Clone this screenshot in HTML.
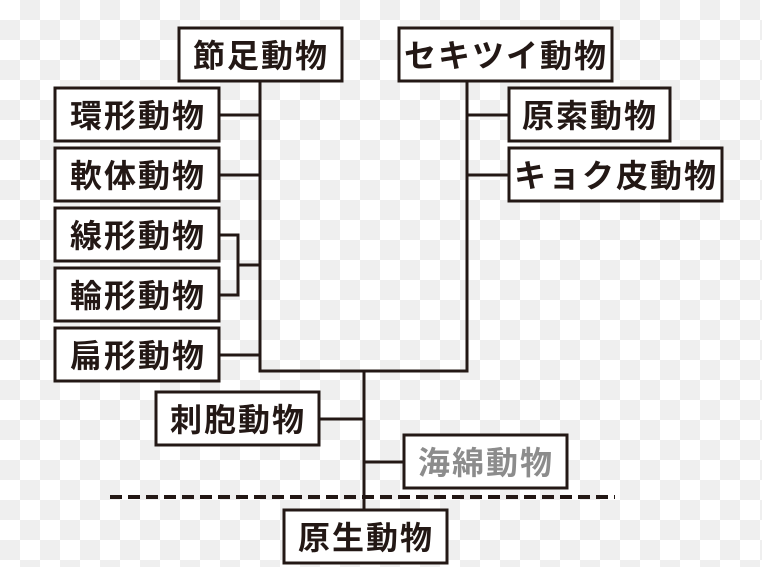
<!DOCTYPE html>
<html><head><meta charset="utf-8"><style>
html,body{margin:0;padding:0;width:762px;height:567px;overflow:hidden;}
body{background-color:#fff;background-image:linear-gradient(45deg,#efefef 25%,transparent 25%,transparent 75%,#efefef 75%),linear-gradient(45deg,#efefef 25%,transparent 25%,transparent 75%,#efefef 75%);background-size:40px 40px;background-position:0 0,20px 20px;}
svg{position:absolute;left:0;top:0}
text{font-family:"Liberation Sans","Noto Sans CJK JP",sans-serif;font-size:32px;font-weight:bold;fill:#231815;dominant-baseline:central;text-anchor:middle;letter-spacing:2px}
</style></head><body>
<svg width="762" height="567" viewBox="0 0 762 567">
<g fill="#fff" stroke="#231815" stroke-width="3">
<rect x="179" y="28" width="163" height="53"/>
<rect x="55" y="88" width="164" height="53"/>
<rect x="55" y="148" width="164" height="53"/>
<rect x="55" y="208" width="164" height="53"/>
<rect x="55" y="268" width="164" height="53"/>
<rect x="55" y="328" width="164" height="53"/>
<rect x="156" y="392" width="163" height="53"/>
<rect x="404" y="435" width="163" height="53"/>
<rect x="284" y="510" width="163" height="53"/>
<rect x="399" y="28" width="213" height="53"/>
<rect x="509" y="88" width="161" height="53"/>
<rect x="509" y="148" width="213" height="53"/>
</g>
<g fill="none" stroke="#231815" stroke-width="3">
<path d="M260 81V371H467V81"/>
<path d="M219 115H260M219 175H260M219 355H260M219 235H238V295H219M238 265H260"/>
<path d="M467 115H509M467 175H509"/>
<path d="M364 371V510M319 419H364M364 462H404"/>
<path d="M110 497H615" stroke-dasharray="12 6" stroke-width="4"/>
</g>
<text x="261" y="56">節足動物</text>
<text x="138" y="116">環形動物</text>
<text x="138" y="176">軟体動物</text>
<text x="138" y="236">線形動物</text>
<text x="138" y="296">輪形動物</text>
<text x="138" y="356">扁形動物</text>
<text x="238" y="420">刺胞動物</text>
<text x="486" y="463" style="fill:#8c8c8c">海綿動物</text>
<text x="366" y="538">原生動物</text>
<text x="506" y="56">セキツイ動物</text>
<text x="590" y="116">原索動物</text>
<text x="616" y="176">キョク皮動物</text>
</svg>
</body></html>
